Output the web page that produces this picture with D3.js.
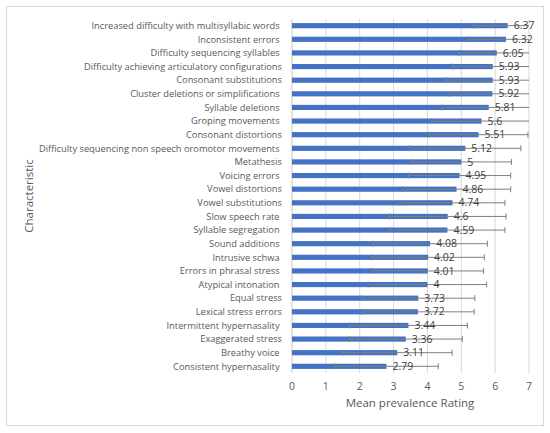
<!DOCTYPE html>
<html>
<head>
<meta charset="utf-8">
<script src="https://cdnjs.cloudflare.com/ajax/libs/d3/7.8.5/d3.min.js"></script>
<style>
  body { margin: 0; background: #fff; }
  text { font-family: "Open Sans", "Noto Sans", sans-serif; white-space: pre; }
</style>
</head>
<body>
<div id="vis"></div>
<script>
// characteristics, top to bottom (trailing spaces are in the original labels)
const characteristics = [
  "Increased difficulty with multisyllabic words ",
  "Inconsistent errors ",
  "Difficulty sequencing syllables ",
  "Difficulty achieving articulatory configurations",
  "Consonant substitutions",
  "Cluster deletions or simplifications ",
  "Syllable deletions ",
  "Groping movements ",
  "Consonant distortions",
  "Difficulty sequencing non speech oromotor movements ",
  "Metathesis",
  "Voicing errors ",
  "Vowel distortions",
  "Vowel substitutions",
  "Slow speech rate ",
  "Syllable segregation ",
  "Sound additions ",
  "Intrusive schwa ",
  "Errors in phrasal stress ",
  "Atypical intonation ",
  "Equal stress",
  "Lexical stress errors",
  "Intermittent hypernasality ",
  "Exaggerated stress",
  "Breathy voice ",
  "Consistent hypernasality "
];
const meanRating = [6.37, 6.32, 6.05, 5.93, 5.93, 5.92, 5.81, 5.6, 5.51, 5.12, 5, 4.95, 4.86,
  4.74, 4.6, 4.59, 4.08, 4.02, 4.01, 4, 3.73, 3.72, 3.44, 3.36, 3.11, 2.79];
// standard deviations, estimated from the error bars
const sdRating = [1.02, 1.10, 1.13, 1.18, 1.40, 1.27, 1.38, 1.47, 1.46, 1.64, 1.48, 1.51, 1.60,
  1.55, 1.72, 1.70, 1.69, 1.66, 1.65, 1.75, 1.67, 1.66, 1.74, 1.67, 1.62, 1.53];
const xTicks = [0, 1, 2, 3, 4, 5, 6, 7];

const width = 550, height = 433;
const svg = d3.select("#vis").append("svg")
  .attr("width", width).attr("height", height);

// chart frame
svg.append("rect")
  .attr("x", 6.5).attr("y", 6.5).attr("width", 537).attr("height", 419)
  .attr("fill", "#fff").attr("stroke", "#d9d9d9");

const data = characteristics.map((c, i) => ({c: c, m: meanRating[i], sd: sdRating[i]}));

const x = d3.scaleLinear().domain([0, 7]).range([292, 529]);
const y = d3.scaleBand().domain(characteristics).range([19, 373]).paddingInner(0.62).paddingOuter(0.3);

// gridlines
svg.append("g").selectAll("line").data(xTicks).join("line")
  .attr("x1", d => x(d)).attr("x2", d => x(d))
  .attr("y1", 19).attr("y2", 373)
  .attr("stroke", "#d9d9d9").attr("stroke-width", 1);

// category axis line
svg.append("line")
  .attr("x1", x(0)).attr("x2", x(0)).attr("y1", 19).attr("y2", 373)
  .attr("stroke", "#d9d9d9");

// bars
svg.append("g").selectAll("rect").data(data).join("rect")
  .attr("x", x(0))
  .attr("y", d => y(d.c))
  .attr("width", d => x(d.m) - x(0))
  .attr("height", y.bandwidth())
  .attr("fill", "#4472c4");

// error bars (clipped at the axis max like the original)
const eb = svg.append("g").attr("stroke", "#7f7f7f").attr("stroke-width", 1);
const cap = 3;
data.forEach(d => {
  const cy = y(d.c) + y.bandwidth() / 2;
  const lo = d.m - d.sd, hi = Math.min(d.m + d.sd, 7);
  eb.append("line").attr("x1", x(lo)).attr("x2", x(hi)).attr("y1", cy).attr("y2", cy);
  eb.append("line").attr("x1", x(lo)).attr("x2", x(lo)).attr("y1", cy - cap).attr("y2", cy + cap);
  if (d.m + d.sd < 7) {
    eb.append("line").attr("x1", x(hi)).attr("x2", x(hi)).attr("y1", cy - cap).attr("y2", cy + cap);
  }
});

// value labels
svg.append("g").selectAll("text").data(data).join("text")
  .attr("x", d => x(d.m) + 6)
  .attr("y", d => y(d.c) + y.bandwidth() / 2)
  .attr("dy", "0.35em")
  .attr("font-size", 10.5)
  .attr("fill", "#404040")
  .text(d => d.m);

// category labels
svg.append("g").selectAll("text").data(data).join("text")
  .attr("x", 282)
  .attr("y", d => y(d.c) + y.bandwidth() / 2)
  .attr("dy", "0.35em")
  .attr("text-anchor", "end")
  .attr("font-size", 9.3)
  .attr("fill", "#595959")
  .text(d => d.c);

// x tick labels
svg.append("g").selectAll("text").data(xTicks).join("text")
  .attr("x", d => x(d))
  .attr("y", 390)
  .attr("text-anchor", "middle")
  .attr("font-size", 10.5)
  .attr("fill", "#595959")
  .text(d => d);

// axis titles
svg.append("text")
  .attr("x", 410).attr("y", 407)
  .attr("text-anchor", "middle")
  .attr("font-size", 11.5)
  .attr("fill", "#595959")
  .text("Mean prevalence Rating");

svg.append("text")
  .attr("transform", "translate(33,196) rotate(-90)")
  .attr("text-anchor", "middle")
  .attr("font-size", 11.5)
  .attr("fill", "#595959")
  .text("Characteristic");
</script>
</body>
</html>
